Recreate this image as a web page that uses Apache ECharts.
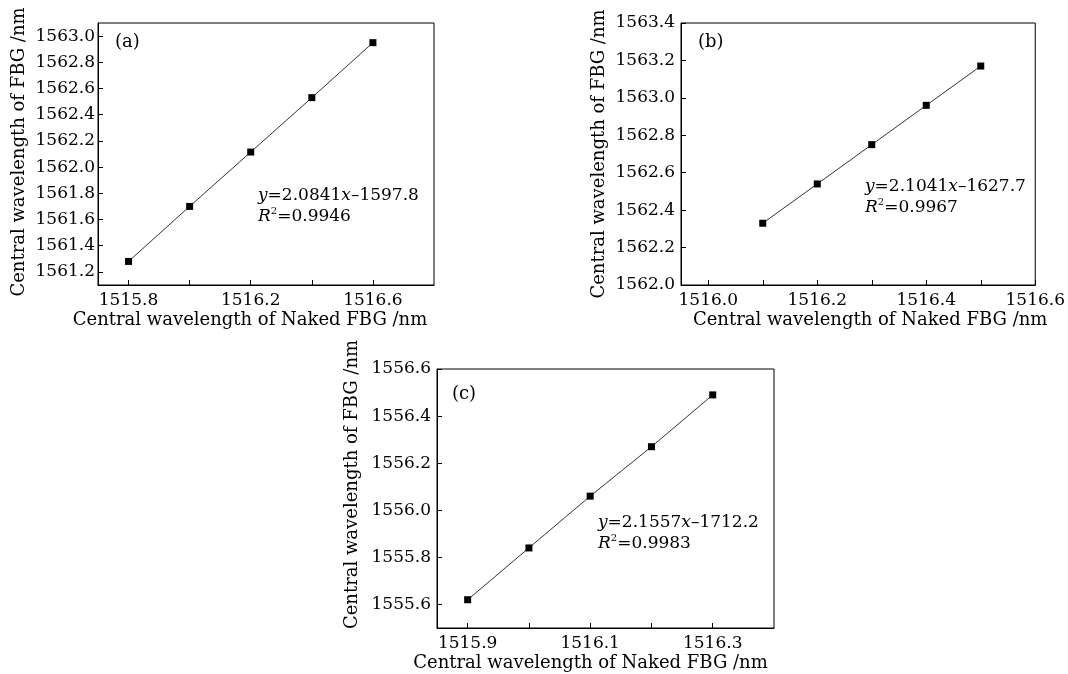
<!DOCTYPE html>
<html><head><meta charset="utf-8">
<script src="https://cdn.jsdelivr.net/npm/echarts@6/dist/echarts.min.js"></script>
<style>html,body{margin:0;padding:0;background:#fff}#c{width:1068px;height:674px}</style>
</head><body><div id="c"></div>
<script>
// Panel (a)
const xA = [1515.8, 1516.0, 1516.2, 1516.4, 1516.6];
const yA = [1561.28, 1561.70, 1562.115, 1562.53, 1562.95];
const ticksXA = [1515.8, 1516.0, 1516.2, 1516.4, 1516.6];
const labelsXA = [1515.8, 1516.2, 1516.6];
const ticksYA = [1561.2, 1561.4, 1561.6, 1561.8, 1562.0, 1562.2, 1562.4, 1562.6, 1562.8, 1563.0];
// Panel (b)
const xB = [1516.1, 1516.2, 1516.3, 1516.4, 1516.5];
const yB = [1562.33, 1562.54, 1562.75, 1562.96, 1563.17];
const ticksXB = [1516.0, 1516.1, 1516.2, 1516.3, 1516.4, 1516.5, 1516.6];
const labelsXB = [1516.0, 1516.2, 1516.4, 1516.6];
const ticksYB = [1562.0, 1562.2, 1562.4, 1562.6, 1562.8, 1563.0, 1563.2, 1563.4];
// Panel (c)
const xC = [1515.9, 1516.0, 1516.1, 1516.2, 1516.3];
const yC = [1555.62, 1555.84, 1556.06, 1556.27, 1556.49];
const ticksXC = [1515.9, 1516.0, 1516.1, 1516.2, 1516.3];
const labelsXC = [1515.9, 1516.1, 1516.3];
const ticksYC = [1555.6, 1555.8, 1556.0, 1556.2, 1556.4, 1556.6];

const panelLabels = ['(a)', '(b)', '(c)'];
const fitEq = [['2.0841', '1597.8', '0.9946'], ['2.1041', '1627.7', '0.9967'], ['2.1557', '1712.2', '0.9983']];
const xTitle = 'Central wavelength of Naked FBG /nm';
const yTitle = 'Central wavelength of FBG /nm';

const FONT = 'DejaVu Serif';
const grids = [
  {left: 98, top: 23, width: 336, height: 262},
  {left: 681, top: 23, width: 358, height: 262},
  {left: 437, top: 369, width: 337, height: 259}
];
const xRanges = [[1515.7, 1516.8], [1515.95, 1516.6], [1515.85, 1516.4]];
const yRanges = [[1561.1, 1563.1], [1562.0, 1563.4], [1555.5, 1556.6]];
const xTicks = [ticksXA, ticksXB, ticksXC];
const xLabels = [labelsXA, labelsXB, labelsXC];
const yTicks = [ticksYA, ticksYB, ticksYC];
const data = [[xA, yA], [xB, yB], [xC, yC]];
const yLabMargin = [3, 6, 6];
const yNameGap = [70, 73, 76];
const xNamePad = [[0, 32, 0, 0], [0, 0, 0, 24], [0, 30, 0, 0]];
const yNamePad = [[0, 0, 0, 4], [0, 0, 0, 0], [0, 0, 0, 28]];

const fmt = v => Number(v).toFixed(1);
const option = {
  animation: false,
  backgroundColor: '#fff',
  textStyle: {fontFamily: FONT, color: '#000'},
  grid: grids.map(g => Object.assign({show: true, borderColor: '#000', borderWidth: 1, backgroundColor: 'transparent'}, g)),
  xAxis: grids.map((g, i) => ({
    type: 'value', gridIndex: i, min: xRanges[i][0], max: xRanges[i][1],
    name: xTitle, nameLocation: 'middle', nameGap: 26,
    nameTextStyle: {fontFamily: FONT, fontSize: 18, color: '#000', padding: xNamePad[i]},
    axisLine: {show: true, onZero: false, lineStyle: {color: '#000', width: 1}},
    axisTick: {show: true, inside: true, length: 5, customValues: xTicks[i], lineStyle: {color: '#000'}},
    axisLabel: {customValues: xLabels[i], formatter: fmt, fontFamily: FONT, fontSize: 17, color: '#000', margin: 7, hideOverlap: false, showMinLabel: true, showMaxLabel: true},
    splitLine: {show: false}
  })),
  yAxis: grids.map((g, i) => ({
    type: 'value', gridIndex: i, min: yRanges[i][0], max: yRanges[i][1],
    name: yTitle, nameLocation: 'middle', nameGap: yNameGap[i], nameRotate: 90,
    nameTextStyle: {fontFamily: FONT, fontSize: 18, color: '#000', padding: yNamePad[i]},
    axisLine: {show: true, onZero: false, lineStyle: {color: '#000', width: 1}},
    axisTick: {show: true, inside: true, length: 5, customValues: yTicks[i], lineStyle: {color: '#000'}},
    axisLabel: {customValues: yTicks[i], formatter: fmt, fontFamily: FONT, fontSize: 17, color: '#000', margin: yLabMargin[i], hideOverlap: false, showMinLabel: true, showMaxLabel: true},
    splitLine: {show: false}
  })),
  series: data.map((d, i) => ({
    type: 'line', xAxisIndex: i, yAxisIndex: i,
    data: d[0].map((x, k) => [x, d[1][k]]),
    symbol: 'rect', symbolSize: 7, showSymbol: true,
    itemStyle: {color: '#000'},
    lineStyle: {color: '#333', width: 1}
  })),
  graphic: []
};

const labelPos = [[115, 33], [698, 33], [452, 385]];
const eqPos = [[258, 187], [865, 178], [598, 514]];
for (let i = 0; i < 3; i++) {
  option.graphic.push({type: 'text', left: labelPos[i][0], top: labelPos[i][1],
    style: {text: panelLabels[i], font: '18px "' + FONT + '"', fill: '#000'}});
  option.graphic.push({type: 'text', left: eqPos[i][0], top: eqPos[i][1],
    style: {
      text: '{i|y}{n|=' + fitEq[i][0] + '}{i|x}{n|\u2013' + fitEq[i][1] + '}\n{i|R}{s|2}{n|=' + fitEq[i][2] + '}',
      fill: '#000',
      rich: {
        n: {fontFamily: FONT, fontSize: 17, lineHeight: 21, fill: '#000'},
        i: {fontFamily: FONT, fontSize: 17, fontStyle: 'italic', lineHeight: 21, fill: '#000'},
        s: {fontFamily: FONT, fontSize: 10, lineHeight: 21, verticalAlign: 'top', fill: '#000'}
      }
    }});
}

const chart = echarts.init(document.getElementById('c'), null, {renderer: 'canvas'});
chart.setOption(option);
</script></body></html>
